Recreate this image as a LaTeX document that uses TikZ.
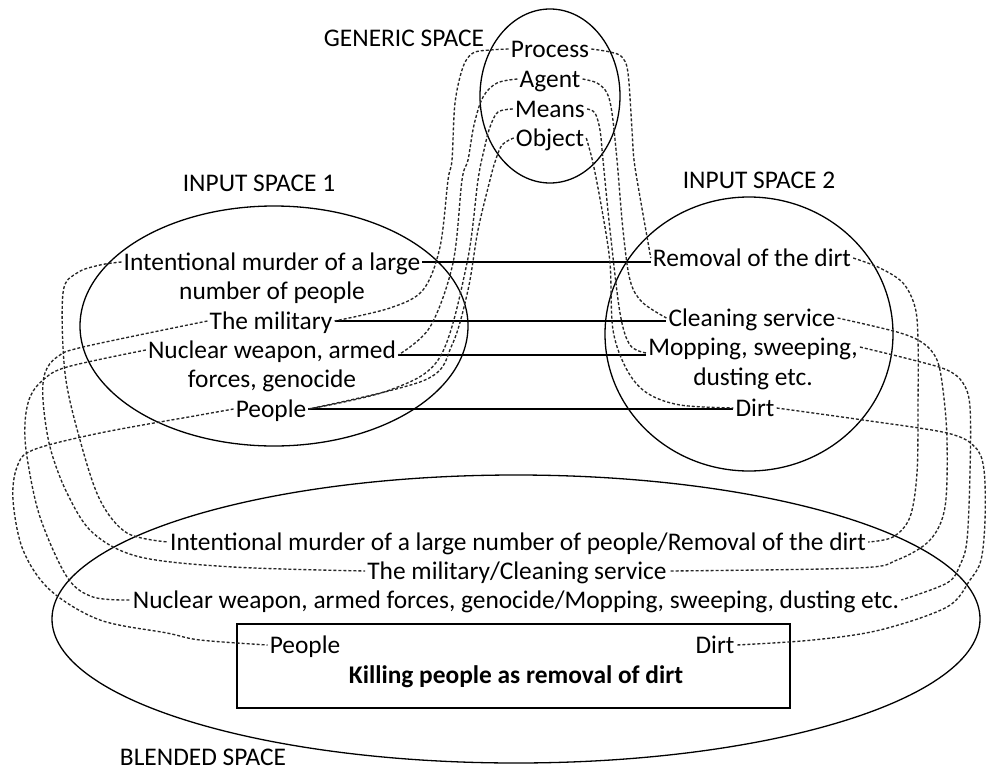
\documentclass[tikz,border=0pt]{standalone}
\usepackage{fontspec}
\setmainfont{Carlito}
\begin{document}
\begin{tikzpicture}[x=1pt,y=-1pt,
  lbl/.style={inner sep=2pt, text height=16pt, text depth=0pt,
    font=\fontsize{25.4pt}{30pt}\selectfont},
  space/.style={draw=black, line width=1.3pt},
  link/.style={draw=black, line width=1.3pt},
  mapline/.style={draw=black!85, line width=1.35pt, dash pattern=on 3pt off 2pt,
    line join=round}]
\useasboundingbox (0,0) rectangle (988,771);

% mental spaces
\draw[space] (550,96) ellipse [x radius=70, y radius=87];
\draw[space] (274,326) ellipse [x radius=194, y radius=120];
\draw[space] (749,334) ellipse [x radius=144, y radius=137];
\draw[space] (516,619) ellipse [x radius=464, y radius=144];
\draw[space] (237,624) rectangle (790,708);

% space titles
\node[lbl] (tgen) at (404,38) {GENERIC SPACE};
\node[lbl] (tin1) at (259,183) {INPUT SPACE 1};
\node[lbl] (tin2) at (759,180) {INPUT SPACE 2};
\node[lbl] (tbl) at (203,757) {BLENDED SPACE};

% generic space
\node[lbl] (proc) at (550,49) {Process};
\node[lbl] (agent) at (550,79) {Agent};
\node[lbl] (means) at (550,109) {Means};
\node[lbl] (obj) at (550,138) {Object};

% input space 1
\node[lbl] (ia) at (272,262) {Intentional murder of a large};
\node[lbl] (ib) at (272,291) {number of people};
\node[lbl] (ic) at (271,321) {The military};
\node[lbl] (id) at (272,350) {Nuclear weapon, armed};
\node[lbl] (ie) at (272,379) {forces, genocide};
\node[lbl] (if) at (271,409) {People};

% input space 2
\node[lbl] (ja) at (752,258) {Removal of the dirt};
\node[lbl] (jc) at (752,318) {Cleaning service};
\node[lbl] (jd) at (753,347) {Mopping, sweeping,};
\node[lbl] (je) at (753,377) {dusting etc.};
\node[lbl] (jf) at (755,408) {Dirt};

% blended space
\node[lbl] (ba) at (518,542) {Intentional murder of a large number of people/Removal of the dirt};
\node[lbl] (bc) at (517,571) {The military/Cleaning service};
\node[lbl] (bd) at (516,600) {Nuclear weapon, armed forces, genocide/Mopping, sweeping, dusting etc.};
\node[lbl] (bp) at (305,645) {People};
\node[lbl] (bq) at (715,645) {Dirt};
\node[lbl] (bk) at (516,675) {\bfseries Killing people as removal of dirt};

% cross-space counterparts
\draw[link] (ia.east) -- (ia.east -| ja.west);
\draw[link] (ic.east) -- (ic.east -| jc.west);
\draw[link] ([yshift=-5pt]id.east) -- ([yshift=-5pt]id.east -| jd.west);
\draw[link] (if.east) -- (if.east -| jf.west);

% generic space to input space 1
\draw[mapline] plot[smooth, tension=0.55] coordinates {(proc.west) (490,50) (473,53) (463,67) (455,103) (452,160) (448,180) (440,247) (423,290) (390,308) (ic.east)};
\draw[mapline] plot[smooth, tension=0.55] coordinates {(agent.west) (497,83) (483,97) (474,125) (468,160) (462,180) (453,263) (430,327) ([yshift=-5pt]id.east)};
\draw[mapline] plot[smooth, tension=0.55] coordinates {(means.west) (498,112) (490,127) (484,150) (478,180) (467,263) (440,357) (390,390) (if.east)};
\draw[mapline] plot[smooth, tension=0.55] coordinates {(obj.west) (502,145) (495,162) (490,180) (478,230) (468,290) (452,345) (425,380) (if.east)};

% generic space to input space 2
\draw[mapline] plot[smooth, tension=0.55] coordinates {(proc.east) (610,52) (622,57) (628,73) (632,130) (634,160) (640,197) (ja.west)};
\draw[mapline] plot[smooth, tension=0.55] coordinates {(agent.east) (597,83) (607,93) (612,113) (617,160) (623,230) (630,280) (642,302) (jc.west)};
\draw[mapline] plot[smooth, tension=0.55] coordinates {(means.east) (595,113) (600,130) (603,160) (610,230) (620,313) (630,345) ([yshift=-6pt]jd.west)};
\draw[mapline] plot[smooth, tension=0.55] coordinates {(obj.east) (593,163) (602,210) (610,263) (613,330) (627,370) (647,393) (680,405) (jf.west)};

% input space 1 to blended space
\draw[mapline] plot[smooth, tension=0.55] coordinates {(ia.west) (100,265) (77,273) (63,293) (65,373) (80,440) (100,500) (127,533) (ba.west)};
\draw[mapline] plot[smooth, tension=0.55] coordinates {(ic.west) (83,347) (57,357) (45,373) (43,400) (50,447) (67,493) (93,533) (140,557) (233,567) (bc.west)};
\draw[mapline] plot[smooth, tension=0.55] coordinates {(id.west) (67,367) (43,380) (30,397) (25,423) (27,457) (40,517) (67,577) (93,597) (bd.west)};
\draw[mapline] plot[smooth, tension=0.55] coordinates {(if.west) (200,415) (100,433) (33,450) (17,467) (13,500) (23,550) (50,590) (100,620) (167,633) (200,640) (bp.west)};

% input space 2 to blended space
\draw[mapline] plot[smooth, tension=0.55] coordinates {(ja.east) (880,268) (903,283) (915,307) (918,340) (918,407) (917,473) (910,517) (893,537) (ba.east)};
\draw[mapline] plot[smooth, tension=0.55] coordinates {(jc.east) (897,332) (923,343) (937,360) (943,390) (947,440) (945,507) (930,540) (897,560) (857,568) (bc.east)};
\draw[mapline] plot[smooth, tension=0.55] coordinates {(jd.east) (913,360) (947,370) (963,383) (970,407) (970,473) (967,540) (960,565) (947,583) (bd.east)};
\draw[mapline] plot[smooth, tension=0.55] coordinates {(jf.east) (863,420) (947,433) (975,447) (984,470) (985,520) (981,560) (970,580) (947,607) (880,630) (813,640) (bq.east)};
\end{tikzpicture}
\end{document}
